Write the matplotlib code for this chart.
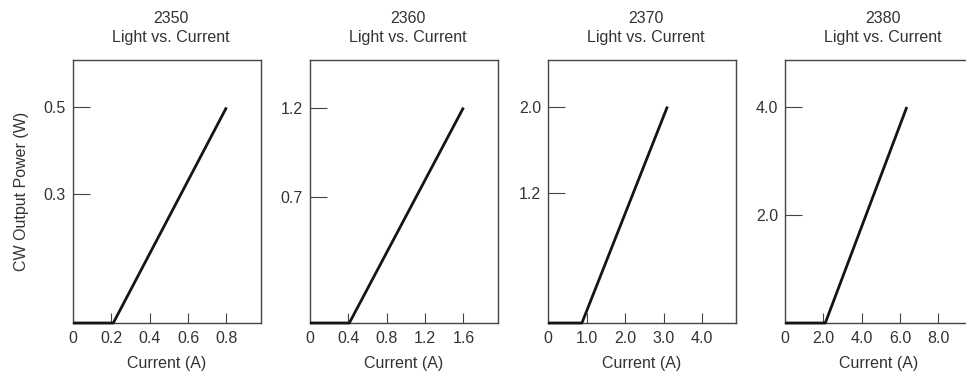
import matplotlib
matplotlib.use("Agg")
import matplotlib.pyplot as plt

plt.rcParams['font.family'] = ['Liberation Sans', 'DejaVu Sans']
plt.rcParams['font.size'] = 11.5

# one entry per model
models = ["2350", "2360", "2370", "2380"]
curve_x = [[0, 0.21, 0.8], [0, 0.41, 1.6], [0, 0.88, 3.1], [0, 2.1, 6.35]]
curve_y = [[0.0, 0.0, 0.5], [0.0, 0.0, 1.2], [0.0, 0.0, 2.0], [0.0, 0.0, 4.0]]
x_ticks = [[0.2, 0.4, 0.6, 0.8], [0.4, 0.8, 1.2, 1.6], [1.0, 2.0, 3.0, 4.0], [2.0, 4.0, 6.0, 8.0]]
x_labels = [["0.2", "0.4", "0.6", "0.8"], ["0.4", "0.8", "1.2", "1.6"],
            ["1.0", "2.0", "3.0", "4.0"], ["2.0", "4.0", "6.0", "8.0"]]
y_ticks = [[0.3, 0.5], [0.7, 1.2], [1.2, 2.0], [2.0, 4.0]]
y_labels = [["0.3", "0.5"], ["0.7", "1.2"], ["1.2", "2.0"], ["2.0", "4.0"]]
x_max = [0.98, 1.96, 4.88, 9.8]
y_max = [0.61, 1.465, 2.43, 4.87]

W, H = 966, 375
fig = plt.figure(figsize=(W / 100, H / 100), dpi=100)

lefts = [73, 310, 548, 785]
top, bottom = 60, 323
text_col = "#333333"
spine_col = "#444444"

for i, m in enumerate(models):
    ax = fig.add_axes([lefts[i] / W, 1 - bottom / H, 188 / W, (bottom - top) / H])
    ax.plot(curve_x[i], curve_y[i], color="#151515", lw=2.0, solid_capstyle="butt",
            clip_on=False, zorder=3)
    ax.set_xlim(0, x_max[i])
    ax.set_ylim(0, y_max[i])
    ax.set_xticks(x_ticks[i])
    ax.set_xticklabels(x_labels[i])
    # the "0" at the origin gets a label but no tick mark
    ax.set_xticks([0], minor=True)
    ax.set_xticklabels(["0"], minor=True)
    ax.set_yticks(y_ticks[i])
    ax.set_yticklabels(y_labels[i])
    ax.tick_params(axis="x", which="major", direction="in", length=7, width=0.8,
                   color=spine_col, labelcolor=text_col, labelsize=11.5, pad=6)
    ax.tick_params(axis="x", which="minor", direction="in", length=0,
                   labelcolor=text_col, labelsize=11.5, pad=6)
    ax.tick_params(axis="y", direction="in", length=12, width=0.8, color=spine_col,
                   labelcolor=text_col, labelsize=11.5, pad=5)
    for s in ax.spines.values():
        s.set_color(spine_col)
        s.set_linewidth(1.0)
    ax.set_title(m + "\nLight vs. Current", color=text_col, pad=13, linespacing=1.3,
                 fontsize=11.5, x=0.52)
    ax.set_xlabel("Current (A)", color=text_col, labelpad=7, fontsize=11.5)
    if i == 0:
        ax.set_ylabel("CW Output Power (W)", color=text_col, labelpad=11, fontsize=11.5)

fig.savefig("out.png", dpi=100)
